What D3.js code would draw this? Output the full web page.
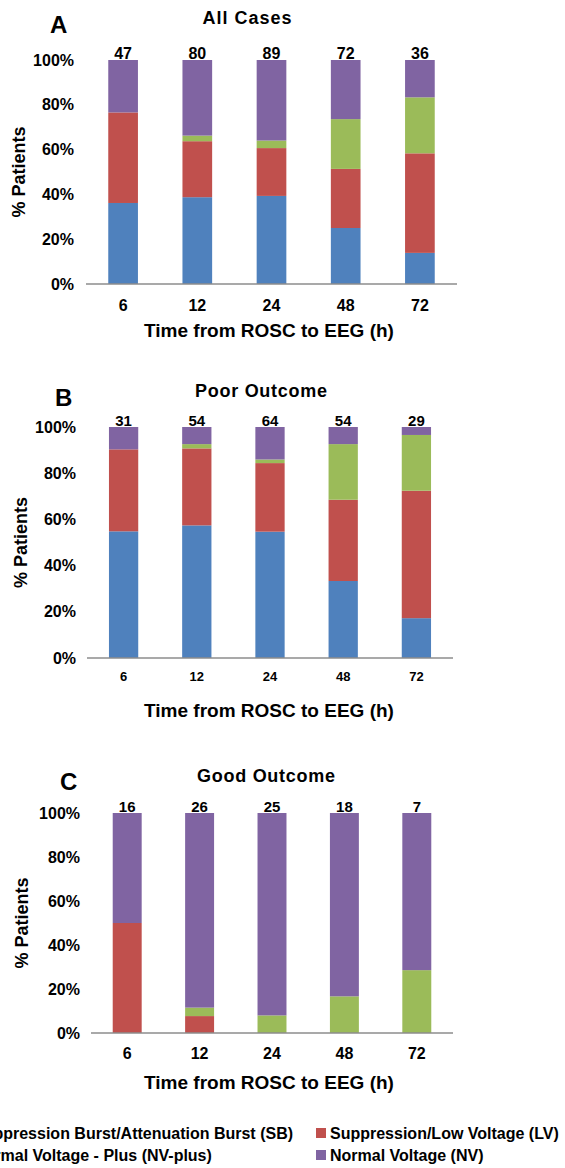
<!DOCTYPE html>
<html lang="en">
<head>
<meta charset="UTF-8">
<title>EEG Background by Time from ROSC</title>
<script src="https://d3js.org/d3.v7.min.js"></script>
<style>
  body { margin: 0; background: #fff; }
  svg { display: block; font-family: "Liberation Sans", Arial, sans-serif; font-weight: bold; }
</style>
</head>
<body>
<div id="chart"></div>
<script>
// Hours after ROSC (x categories)
const hours = ["6", "12", "24", "48", "72"];

// EEG categories, bottom to top
const categories = ["SB", "LV", "NVplus", "NV"];
const legendLabels = [
  "Suppression Burst/Attenuation Burst (SB)",
  "Suppression/Low Voltage (LV)",
  "Normal Voltage - Plus (NV-plus)",
  "Normal Voltage (NV)"
];
const colors = ["#4F81BD", "#C0504D", "#9BBB59", "#8064A2"];

const allSB     = [17, 31, 35, 18, 5];
const allLV     = [19, 20, 19, 19, 16];
const allNVplus = [0, 2, 3, 16, 9];
const allNV     = [11, 27, 32, 19, 6];

const poorSB     = [17, 31, 35, 18, 5];
const poorLV     = [11, 18, 19, 19, 16];
const poorNVplus = [0, 1, 1, 13, 7];
const poorNV     = [3, 4, 9, 4, 1];

const goodSB     = [0, 0, 0, 0, 0];
const goodLV     = [8, 2, 0, 0, 0];
const goodNVplus = [0, 1, 2, 3, 2];
const goodNV     = [8, 23, 23, 15, 5];

const yTicks = [0, 0.2, 0.4, 0.6, 0.8, 1];

const W = 565, H = 1168;
const svg = d3.select("#chart").append("svg")
  .attr("width", W).attr("height", H);

const color = d3.scaleOrdinal().domain(categories).range(colors);

// layout for each panel
const panels = [
  { letter: "A", title: "All Cases", series: [allSB, allLV, allNVplus, allNV],
    x0: 86, x1: 457, yBase: 284, yTop: 60, tickRight: 74, catY: 305, catSize: 16,
    titleX: 247, titleY: 24, titleW: 89, letterX: 50, letterY: 33, yLabX: 19, axTitleY: 337, nSize: 16 },
  { letter: "B", title: "Poor Outcome", series: [poorSB, poorLV, poorNVplus, poorNV],
    x0: 87, x1: 453, yBase: 658, yTop: 427, tickRight: 76, catY: 676, catSize: 13,
    titleX: 261, titleY: 397, titleW: 132, letterX: 55, letterY: 406, yLabX: 21, axTitleY: 717, nSize: 15 },
  { letter: "C", title: "Good Outcome", series: [goodSB, goodLV, goodNVplus, goodNV],
    x0: 91, x1: 453, yBase: 1033, yTop: 813, tickRight: 80, catY: 1053, catSize: 16,
    titleX: 266, titleY: 782, titleW: 138, letterX: 60, letterY: 790, yLabX: 22, axTitleY: 1089, nSize: 15 }
];

panels.forEach(p => {
  const g = svg.append("g");

  // build table rows from the arrays
  const rows = hours.map((h, i) => {
    const r = { hour: h };
    categories.forEach((c, k) => { r[c] = p.series[k][i]; });
    r.total = d3.sum(categories, c => r[c]);
    return r;
  });

  const x = d3.scaleBand().domain(hours).range([p.x0, p.x1])
    .paddingInner(0.6).paddingOuter(0.3);
  const y = d3.scaleLinear().domain([0, 1]).range([p.yBase, p.yTop]);

  const stacked = d3.stack().keys(categories).offset(d3.stackOffsetExpand)(rows);

  g.selectAll("g.layer")
    .data(stacked)
    .join("g")
    .attr("class", "layer")
    .attr("fill", d => color(d.key))
    .selectAll("rect")
    .data(d => d)
    .join("rect")
    .attr("x", d => x(d.data.hour))
    .attr("width", x.bandwidth())
    .attr("y", d => y(d[1]))
    .attr("height", d => y(d[0]) - y(d[1]));

  // y axis: labels only
  const yAxis = g.append("g")
    .attr("transform", `translate(${p.tickRight},0)`)
    .call(d3.axisLeft(y).tickValues(yTicks).tickFormat(d3.format(".0%")).tickSize(0).tickPadding(0));
  yAxis.select(".domain").remove();
  yAxis.selectAll("text")
    .attr("font-family", null)
    .style("font-size", "16px")
    .attr("fill", "#000");

  // x axis with grey baseline
  const xAxis = g.append("g")
    .attr("transform", `translate(0,${p.yBase})`)
    .call(d3.axisBottom(x).tickSize(0).tickPadding(0).tickSizeOuter(0));
  xAxis.select(".domain").attr("stroke", "#8c8c8c").attr("stroke-width", 1.5)
    .attr("d", `M${p.x0},0H${p.x1}`);
  xAxis.selectAll("text")
    .attr("font-family", null)
    .attr("dy", null)
    .attr("y", p.catY - p.yBase)
    .attr("dominant-baseline", "central")
    .style("font-size", p.catSize + "px")
    .attr("fill", "#000");

  // n labels over bars
  g.selectAll("text.n")
    .data(rows)
    .join("text")
    .attr("class", "n")
    .attr("x", d => x(d.hour) + x.bandwidth() / 2)
    .attr("y", p.yTop - 1)
    .attr("text-anchor", "middle")
    .style("font-size", p.nSize + "px")
    .text(d => d.total);

  // panel letter
  g.append("text")
    .attr("x", p.letterX).attr("y", p.letterY)
    .style("font-size", "24px")
    .text(p.letter);

  // panel title (spaced out a little, as in the original)
  g.append("text")
    .attr("x", p.titleX).attr("y", p.titleY)
    .attr("text-anchor", "middle")
    .attr("textLength", p.titleW)
    .attr("lengthAdjust", "spacing")
    .style("font-size", "18px")
    .text(p.title);

  // y axis title
  g.append("text")
    .attr("transform", `translate(${p.yLabX + 6},${(p.yBase + p.yTop) / 2}) rotate(-90)`)
    .attr("text-anchor", "middle")
    .style("font-size", "18px")
    .text("% Patients");

  // x axis title
  g.append("text")
    .attr("x", 269).attr("y", p.axTitleY)
    .attr("text-anchor", "middle")
    .style("font-size", "19px")
    .text("Time from ROSC to EEG (h)");
});

// legend (left column runs off the page edge as in the original)
const legend = svg.append("g").attr("class", "legend");
const legendPos = [[-27, 1133], [330, 1133], [-27, 1155], [330, 1155]];
categories.forEach((c, i) => {
  const [lx, ly] = legendPos[i];
  legend.append("rect")
    .attr("x", lx - 14).attr("y", ly - 5)
    .attr("width", 10).attr("height", 10)
    .attr("fill", color(c));
  legend.append("text")
    .attr("x", lx).attr("y", ly)
    .attr("dominant-baseline", "central")
    .style("font-size", "16px")
    .text(legendLabels[i]);
});
</script>
</body>
</html>
